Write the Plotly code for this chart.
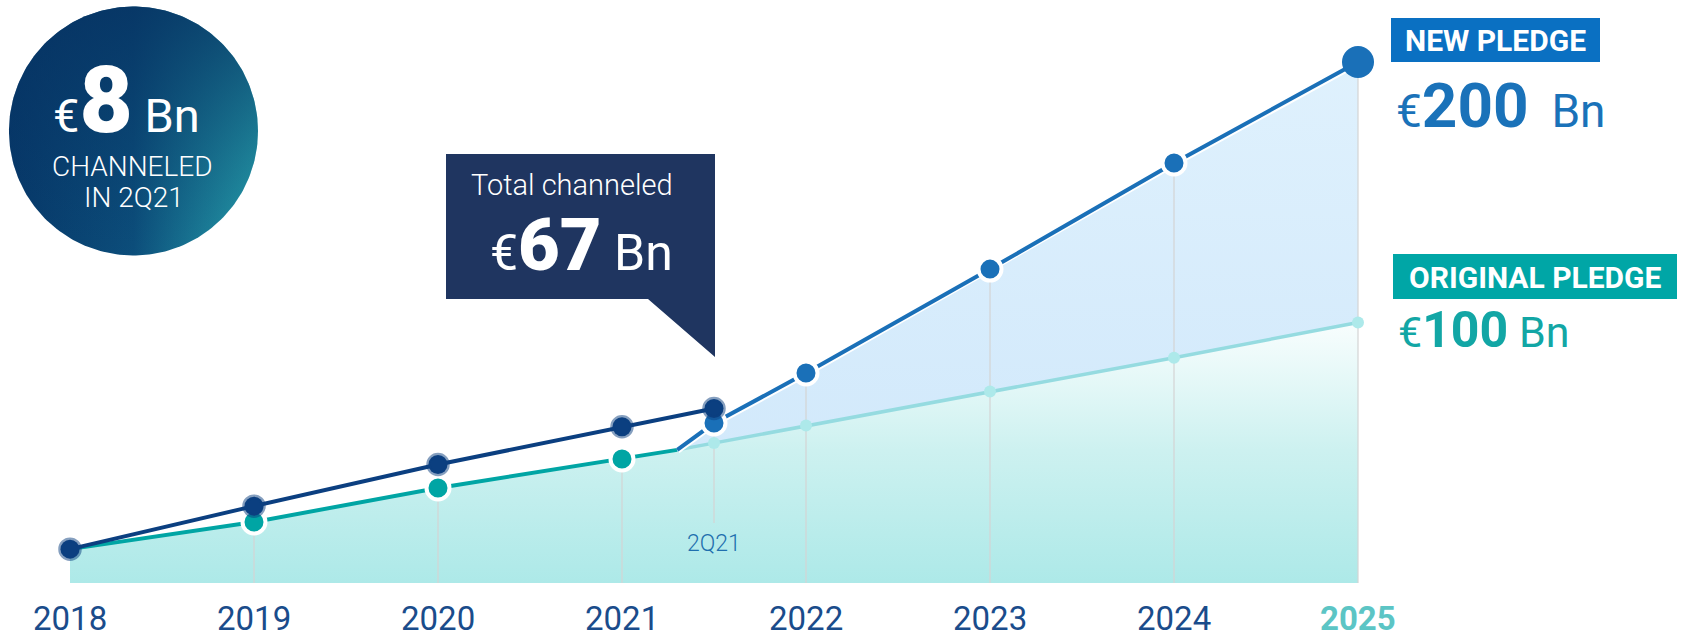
import numpy as np
import plotly.graph_objects as go

# ---- data (EUR Bn, cumulative) ----
years = [2018, 2019, 2020, 2021, 2022, 2023, 2024, 2025]
year_labels = ["2018", "2019", "2020", "2021", "2022", "2023", "2024", "2025"]

channeled_x = [2018, 2019, 2020, 2021, 2021.5]
channeled = [13, 29.5, 45.5, 60, 67]

original_x = [2018, 2019, 2020, 2021, 2021.3, 2021.5, 2022, 2023, 2024, 2025]
original = [13, 23.4, 36.5, 47.6, 51.1, 53.7, 60.5, 73.5, 86.5, 100]

new_x = [2021.3, 2021.5, 2022, 2023, 2024, 2025]
new_pledge = [51.1, 61.4, 80.6, 120.5, 161.2, 200]

split_x = 2021.3      # where the new pledge departs from the original path
q2_x = 2021.5         # 2Q21
q2_label = "2Q21"

FONT = "Roboto"
W, H = 1687, 638

NAVY = "#0b3f80"
TEAL = "#00a5a4"
TEAL_LIGHT = "#95dbe0"
TEAL_DOT = "#ade9ea"
BLUE = "#1a70b8"
TICK = "#1a4c8b"
GRID = "#d4d4d4"

# pixel anchors of the data axes (x: year -> px, y: value -> px)
X0_PX, X_STEP = 70.0, 184.0
Y0_PX, Y_STEP = 583.0, 2.605
x_range = [2018 - X0_PX / X_STEP, 2018 + (W - X0_PX) / X_STEP]
y_range = [(Y0_PX - H) / Y_STEP, Y0_PX / Y_STEP]

fig = go.Figure()

# ---- filled areas ----
fig.add_trace(go.Scatter(
    x=original_x, y=original, mode="lines", line=dict(width=0),
    fill="tozeroy",
    fillgradient=dict(type="vertical", start=0, stop=102,
                      colorscale=[[0, "#ade9e8"], [0.5, "#cdf1f0"], [1, "#fafefe"]]),
    hoverinfo="skip", showlegend=False))

orig_tail_x = [x for x in original_x if x >= split_x]
orig_tail = [v for x, v in zip(original_x, original) if x >= split_x]
fig.add_trace(go.Scatter(
    x=orig_tail_x, y=orig_tail, mode="lines", line=dict(width=0),
    hoverinfo="skip", showlegend=False))
fig.add_trace(go.Scatter(
    x=new_x, y=new_pledge, mode="lines", line=dict(width=0),
    fill="tonexty",
    fillgradient=dict(type="vertical", start=50, stop=200,
                      colorscale=[[0, "#d2e9fb"], [1, "#dff1fd"]]),
    hoverinfo="skip", showlegend=False))

# ---- vertical drop lines ----
drop_x, drop_y = [], []
for x, v in zip(original_x, original):
    if x in (2019, 2020, 2021):
        drop_x += [x, x, None]
        drop_y += [v, 0, None]
for x, v in zip(new_x, new_pledge):
    if x == q2_x:
        drop_x += [x, x, None]
        drop_y += [v, 23, None]
    elif x >= 2022:
        drop_x += [x, x, None]
        drop_y += [v, 0, None]
fig.add_trace(go.Scatter(x=drop_x, y=drop_y, mode="lines",
                         line=dict(color=GRID, width=1.2),
                         hoverinfo="skip", showlegend=False))

# ---- lines ----
head_x = [x for x in original_x if x <= split_x]
head = [v for x, v in zip(original_x, original) if x <= split_x]
fig.add_trace(go.Scatter(x=orig_tail_x, y=orig_tail, mode="lines",
                         line=dict(color=TEAL_LIGHT, width=3.5),
                         hoverinfo="skip", showlegend=False))
fig.add_trace(go.Scatter(x=head_x, y=head, mode="lines",
                         line=dict(color=TEAL, width=4),
                         hoverinfo="skip", showlegend=False))
fig.add_trace(go.Scatter(x=new_x, y=new_pledge, mode="lines",
                         line=dict(color="white", width=8),
                         hoverinfo="skip", showlegend=False))
fig.add_trace(go.Scatter(x=new_x, y=new_pledge, mode="lines",
                         line=dict(color=BLUE, width=4),
                         hoverinfo="skip", showlegend=False))
fig.add_trace(go.Scatter(x=channeled_x, y=channeled, mode="lines",
                         line=dict(color=NAVY, width=4),
                         hoverinfo="skip", showlegend=False))

# ---- markers ----
dot_x = [x for x in original_x if x >= q2_x]
dot_y = [v for x, v in zip(original_x, original) if x >= q2_x]
fig.add_trace(go.Scatter(x=dot_x, y=dot_y, mode="markers",
                         marker=dict(color=TEAL_DOT, size=12, line=dict(width=0)),
                         hoverinfo="skip", showlegend=False))

big_x = [x for x in original_x if x in (2019, 2020, 2021)]
big_y = [v for x, v in zip(original_x, original) if x in (2019, 2020, 2021)]
fig.add_trace(go.Scatter(x=big_x, y=big_y, mode="markers",
                         marker=dict(color=TEAL, size=23, line=dict(color="white", width=4)),
                         hoverinfo="skip", showlegend=False))

fig.add_trace(go.Scatter(x=new_x[1:-1], y=new_pledge[1:-1], mode="markers",
                         marker=dict(color=BLUE, size=23, line=dict(color="white", width=4)),
                         hoverinfo="skip", showlegend=False))
fig.add_trace(go.Scatter(x=new_x[-1:], y=new_pledge[-1:], mode="markers",
                         marker=dict(color=BLUE, size=32, line=dict(width=0)),
                         hoverinfo="skip", showlegend=False))

fig.add_trace(go.Scatter(x=channeled_x, y=channeled, mode="markers",
                         marker=dict(color=NAVY, size=19,
                                     line=dict(color="rgba(11,63,128,0.5)", width=4.5)),
                         hoverinfo="skip", showlegend=False))

# ---- round badge (pixel overlay axes) ----
cx, cy, r = 133.5, 131.0, 124.5
t = np.linspace(0, 2 * np.pi, 240)
circ_x = cx + r * np.cos(t)
circ_y = cy + r * np.sin(t)
fig.add_trace(go.Scatter(
    x=circ_x, y=circ_y, xaxis="x2", yaxis="y2", mode="lines", line=dict(width=0),
    fill="toself",
    fillgradient=dict(type="horizontal", start=cx - r, stop=cx + r,
                      colorscale=[[0, "#07396a"], [0.5, "#0c4e7b"], [1, "#27a3ae"]]),
    hoverinfo="skip", showlegend=False))
fig.add_trace(go.Scatter(
    x=circ_x, y=circ_y, xaxis="x2", yaxis="y2", mode="lines", line=dict(width=0),
    fill="toself",
    fillgradient=dict(type="vertical", start=cy - r, stop=cy + r,
                      colorscale=[[0, "rgba(6,50,98,0.8)"], [0.6, "rgba(6,50,98,0.3)"],
                                  [1, "rgba(6,50,98,0.0)"]]),
    hoverinfo="skip", showlegend=False))

shapes = [
    # callout
    dict(type="path", xref="x2", yref="y2",
         path="M446,154 L715,154 L715,357 L648,299 L446,299 Z",
         fillcolor="#1f3560", line=dict(width=0), layer="above"),
    dict(type="rect", xref="x2", yref="y2", x0=1391, x1=1600, y0=18, y1=62,
         fillcolor="#0a70c2", line=dict(width=0), layer="above"),
    dict(type="rect", xref="x2", yref="y2", x0=1393, x1=1677, y0=254, y1=299,
         fillcolor="#00a6a6", line=dict(width=0), layer="above"),
]

annotations = []


def note(text, x, y, size, color, xanchor="center", xref="x2", weight=400):
    annotations.append(dict(
        text=text, x=x, y=y, xref=xref, yref="y2", xanchor=xanchor, yanchor="middle",
        showarrow=False, borderpad=0,
        font=dict(family=FONT, size=size, color=color, weight=weight)))


# year labels
for yr, lab in zip(years, year_labels):
    if yr == years[-1]:
        note(f"<b>{lab}</b>", yr, 618, 33, "#5cc5c5", xref="x")
    else:
        note(lab, yr, 618, 33, TICK, xref="x")
note(q2_label, q2_x, 543, 23, "#1f6fae", xref="x", weight=300)

# badge text
note("€<span style='font-size:92px;font-weight:900'>8</span> Bn", 126, 100, 47, "white")
note("CHANNELED", 132, 166, 28, "white", weight=300)
note("IN 2Q21", 134, 197, 28, "white", weight=300)

# callout text
note("Total channeled", 572, 185, 29, "white", weight=300)
note(f"€<span style='font-size:72px;font-weight:900'>{channeled[-1]}</span> Bn",
     581, 245, 50, "white")

# pledge labels
note("<b>NEW PLEDGE</b>", 1495.5, 40, 30, "white")
note(f"€<b><span style='font-size:62px'>{new_pledge[-1]}</span></b>  Bn", 1395, 105, 46,
     "#1a72b9", xanchor="left")
note("<b>ORIGINAL PLEDGE</b>", 1535, 277, 30, "white")
note(f"€<b><span style='font-size:50px'>{original[-1]}</span></b> Bn", 1397, 330, 43, "#12a6a5",
     xanchor="left")

fig.update_layout(
    width=W, height=H,
    margin=dict(l=0, r=0, t=0, b=0),
    paper_bgcolor="white", plot_bgcolor="white",
    showlegend=False,
    xaxis=dict(range=x_range, visible=False, fixedrange=True),
    yaxis=dict(range=y_range, visible=False, fixedrange=True),
    xaxis2=dict(range=[0, W], visible=False, overlaying="x", anchor="y2", fixedrange=True),
    yaxis2=dict(range=[H, 0], visible=False, overlaying="y", anchor="x2", fixedrange=True),
    shapes=shapes,
    annotations=annotations,
    hovermode=False,
)

fig.write_html("out.html", config={"displayModeBar": False})
